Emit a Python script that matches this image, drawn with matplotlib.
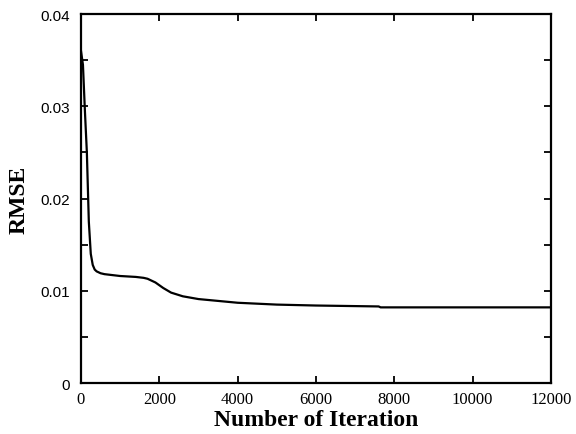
import matplotlib
matplotlib.use("Agg")
import matplotlib.pyplot as plt
from matplotlib.ticker import MultipleLocator

# values
iteration = [0, 50, 100, 150, 200, 250, 300, 350, 400, 500, 600, 800, 1000, 1400,
             1600, 1700, 1800, 1900, 2000, 2100, 2300, 2600, 3000, 3500, 4000,
             5000, 6000, 7600, 7650, 12000]
rmse = [0.0360, 0.0345, 0.0295, 0.0250, 0.0175, 0.0140, 0.0128, 0.0123, 0.0121,
        0.0119, 0.0118, 0.0117, 0.0116, 0.0115, 0.0114, 0.0113, 0.0111, 0.0109,
        0.0106, 0.0103, 0.0098, 0.0094, 0.0091, 0.0089, 0.0087, 0.0085, 0.0084,
        0.0083, 0.0082, 0.0082]

fig = plt.figure(figsize=(5.76, 4.35), dpi=100)
ax = fig.add_axes([0.1406, 0.1172, 0.8160, 0.8483])
ax.plot(iteration, rmse, color='black', linewidth=1.6)

ax.set_xlim(0, 12000)
ax.set_ylim(0, 0.04)
ax.yaxis.set_minor_locator(MultipleLocator(0.005))
ax.set_yticks([0, 0.01, 0.02, 0.03, 0.04])
ax.set_yticklabels(['0', '0.01', '0.02', '0.03', '0.04'], family='Liberation Sans', fontsize=11)
ax.set_xticks(range(0, 12001, 2000))
ax.set_xticklabels([str(v) for v in range(0, 12001, 2000)], family='Liberation Serif', fontsize=12)
ax.tick_params(which='both', direction='in', top=True, right=True, length=5, width=1.3, colors='black')
ax.tick_params(axis='x', pad=6)
ax.tick_params(axis='y', pad=8)
for s in ax.spines.values():
    s.set_linewidth(1.6)

ax.set_xlabel('Number of Iteration', family='Liberation Serif', fontweight='bold', fontsize=17, labelpad=1)
ax.set_ylabel('RMSE', family='Liberation Serif', fontweight='bold', fontsize=17, labelpad=8)

fig.savefig('out.png', dpi=100)
